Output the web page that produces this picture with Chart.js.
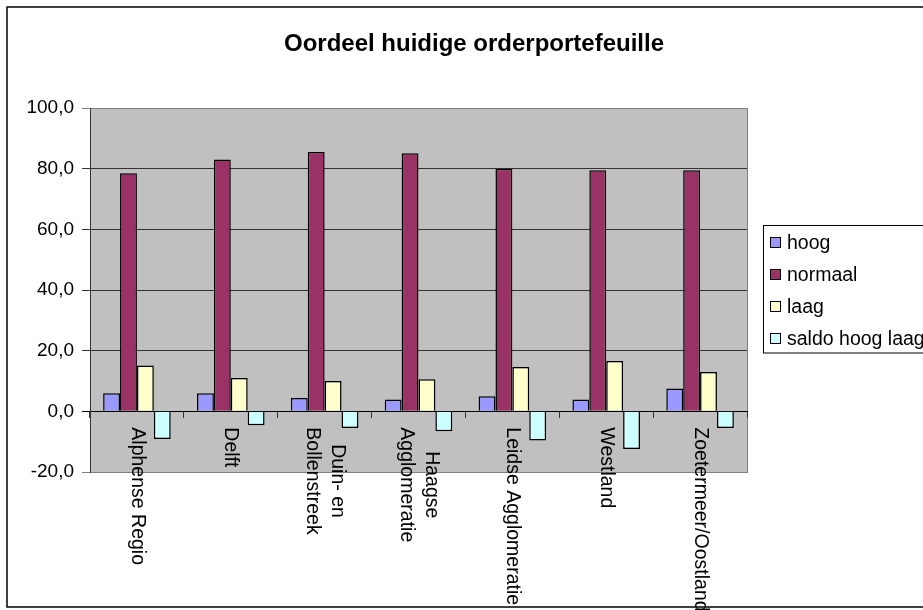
<!DOCTYPE html>
<html>
<head>
<meta charset="utf-8">
<title>Oordeel huidige orderportefeuille</title>
<script src="https://cdn.jsdelivr.net/npm/chart.js@4/dist/chart.umd.min.js"></script>
<style>
  html, body { margin: 0; padding: 0; background: #fff; }
  #wrap { width: 923px; height: 610px; }
</style>
</head>
<body>
<div id="wrap"><canvas id="chart" width="923" height="610"></canvas></div>
<script>
// regio's (meerregelige labels als array)
const regions = [
  'Alphense Regio',
  'Delft',
  ['Duin- en', 'Bollenstreek'],
  ['Haagse', 'Agglomeratie'],
  'Leidse Agglomeratie',
  'Westland',
  'Zoetermeer/Oostland',
];

const hoog    = [6.0, 6.0, 4.4, 3.9, 5.0, 3.9, 7.5];
const normaal = [78.5, 83.0, 85.5, 85.1, 80.0, 79.5, 79.5];
const laag    = [15.1, 11.0, 10.0, 10.6, 14.6, 16.6, 13.0];
const saldo   = [-9.1, -4.6, -5.5, -6.6, -9.6, -12.4, -5.5];

const seriesNames  = ['hoog', 'normaal', 'laag', 'saldo hoog laag'];
const seriesColors = ['#9999FF', '#993366', '#FFFFCC', '#CCFFFF'];

const yMin = -20, yMax = 100, yStep = 20;

const FONT = '"Liberation Sans", Arial, sans-serif';

// Achtergrond, kader en titel
const framePlugin = {
  id: 'frame',
  beforeDraw(chart) {
    const { ctx, chartArea: a } = chart;
    ctx.save();
    ctx.fillStyle = '#fff';
    ctx.fillRect(0, 0, chart.width, chart.height);
    ctx.strokeStyle = '#000';
    ctx.lineWidth = 1.5;
    ctx.strokeRect(7, 7, chart.width + 20, 600);
    ctx.fillStyle = '#C0C0C0';
    ctx.fillRect(a.left, a.top, a.right - a.left, a.bottom - a.top);
    ctx.strokeStyle = '#808080';
    ctx.lineWidth = 1;
    ctx.strokeRect(a.left + 0.5, a.top + 0.5, a.right - a.left, a.bottom - a.top);
    ctx.fillStyle = '#000';
    ctx.font = 'bold 24px ' + FONT;
    ctx.textAlign = 'center';
    ctx.textBaseline = 'alphabetic';
    ctx.fillText('Oordeel huidige orderportefeuille', 474, 51);
    ctx.restore();
  },
};

// Categorie-labels 90 graden gedraaid, onder de nullijn
const rotatedLabels = {
  id: 'rotatedLabels',
  afterDraw(chart) {
    const { ctx } = chart;
    const x = chart.scales.x;
    const y = chart.scales.y;
    const startY = y.getPixelForValue(0) + 16;
    const lineH = 25;
    ctx.save();
    ctx.font = '19.5px ' + FONT;
    ctx.fillStyle = '#000';
    ctx.textAlign = 'center';
    ctx.textBaseline = 'middle';
    regions.forEach((lbl, i) => {
      const lines = Array.isArray(lbl) ? lbl : [lbl];
      const w = Math.max(...lines.map(l => ctx.measureText(l).width));
      const cx = x.getPixelForValue(i);
      ctx.save();
      ctx.translate(cx, startY + w / 2);
      ctx.rotate(Math.PI / 2);
      lines.forEach((l, j) => {
        const off = (j - (lines.length - 1) / 2) * lineH;
        ctx.fillText(l, 0, off);
      });
      ctx.restore();
    });
    ctx.restore();
  },
};

// Legenda met kader rechts
const boxLegend = {
  id: 'boxLegend',
  afterDraw(chart) {
    const { ctx } = chart;
    ctx.save();
    ctx.strokeStyle = '#000';
    ctx.lineWidth = 1;
    ctx.fillStyle = '#fff';
    ctx.fillRect(763, 225, 200, 128);
    ctx.strokeRect(763.5, 225.5, 200, 127.5);
    ctx.font = '19.5px ' + FONT;
    ctx.textAlign = 'left';
    ctx.textBaseline = 'middle';
    chart.data.datasets.forEach((ds, i) => {
      const cy = 243 + i * 32;
      ctx.fillStyle = ds.backgroundColor;
      ctx.fillRect(770.5, cy - 5.5, 10, 10);
      ctx.strokeStyle = '#000';
      ctx.strokeRect(770.5, cy - 5.5, 10, 10);
      ctx.fillStyle = '#000';
      ctx.fillText(ds.label, 787, cy + 1);
    });
    ctx.restore();
  },
};

const seriesData = [hoog, normaal, laag, saldo];

new Chart(document.getElementById('chart'), {
  type: 'bar',
  data: {
    labels: regions,
    datasets: seriesData.map((d, i) => ({
      label: seriesNames[i],
      data: d,
      backgroundColor: seriesColors[i],
      borderColor: '#000',
      borderWidth: 1.5,
      categoryPercentage: 0.72,
      barPercentage: 1.0,
    })),
  },
  options: {
    responsive: false,
    animation: false,
    layout: { padding: { left: 0, right: 176, top: 108, bottom: 138 } },
    plugins: {
      legend: { display: false },
      title: { display: false },
      tooltip: { enabled: false },
    },
    scales: {
      x: {
        position: { y: 0 },
        grid: {
          drawOnChartArea: false,
          drawTicks: true,
          tickLength: 6,
          color: '#333',
        },
        border: { display: true, color: '#000', width: 1 },
        ticks: { display: false },
      },
      y: {
        min: yMin,
        max: yMax,
        afterFit(scale) { scale.width = 90; },
        ticks: {
          stepSize: yStep,
          padding: 8,
          color: '#000',
          font: { family: FONT, size: 19 },
          callback: v => v.toFixed(1).replace('.', ','),
        },
        grid: {
          tickLength: 8,
          color: ctx => {
            const v = ctx.tick ? ctx.tick.value : null;
            if (v === yMax || v === yMin) return '#808080';
            if (v === 0) return '#000';
            return '#333';
          },
        },
        border: { display: true, color: '#333', width: 1 },
      },
    },
  },
  plugins: [framePlugin, rotatedLabels, boxLegend],
});
</script>
</body>
</html>
